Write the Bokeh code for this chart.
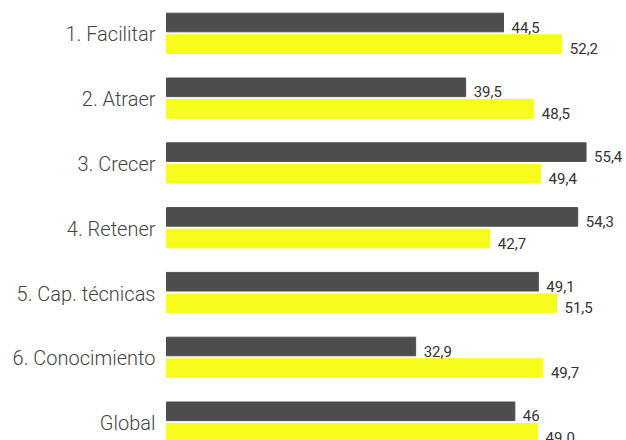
from bokeh.plotting import figure
from bokeh.models import Range1d, ColumnDataSource
from bokeh.core.properties import value
from bokeh.embed import file_html
from bokeh.resources import INLINE

categories = ["1. Facilitar", "2. Atraer", "3. Crecer", "4. Retener",
              "5. Cap. técnicas", "6. Conocimiento", "Global"]
series_dark = [44.5, 39.5, 55.4, 54.3, 49.1, 32.9, 46.0]
series_yellow = [52.2, 48.5, 49.4, 42.7, 51.5, 49.7, 49.0]
labels_dark = ["44,5", "39,5", "55,4", "54,3", "49,1", "32,9", "46"]
labels_yellow = ["52,2", "48,5", "49,4", "42,7", "51,5", "49,7", "49.0"]

DARK = "#4d4d4d"
YELLOW = "#f8fc1c"

idx = list(range(len(categories)))
UNIT = 64.8    # px per category
SCALE = 7.573  # px per value unit
TOP = 32.8     # px from top to first group centre
off = 10.8 / UNIT
bh = 18.6 / UNIT

src = ColumnDataSource(dict(
    y=idx,
    yd=[i - off for i in idx],
    yy=[i + off for i in idx],
    cat=categories,
    dark=series_dark,
    yellow=series_yellow,
    ld=labels_dark,
    ly=labels_yellow,
    zero=[0] * len(idx),
))

W, H = 626, 440
X0 = 166
p = figure(width=W, height=H, output_backend="svg", toolbar_location=None,
           x_range=Range1d(-X0 / SCALE, (W - X0) / SCALE),
           y_range=Range1d((H - TOP) / UNIT, -TOP / UNIT),
           min_border_left=0, min_border_right=0, min_border_top=0, min_border_bottom=0)
p.axis.visible = False
p.grid.visible = False
p.outline_line_color = None
p.background_fill_color = "white"

p.hbar(y="yd", left=0, right="dark", height=bh, color=DARK, source=src)
p.hbar(y="yy", left=0, right="yellow", height=bh, color=YELLOW, source=src)

p.text(x="dark", y="yd", text="ld", source=src, x_offset=8, y_offset=4.5,
       text_font=value("Roboto"), text_font_size="15px", text_color="#333333",
       text_baseline="middle", text_align="left")
p.text(x="yellow", y="yy", text="ly", source=src, x_offset=8, y_offset=4.5,
       text_font=value("Roboto"), text_font_size="15px", text_color="#333333",
       text_baseline="middle", text_align="left")
p.text(x="zero", y="y", text="cat", source=src, x_offset=-11, y_offset=1,
       text_font=value("Roboto Light"), text_font_size="20px", text_color="#444444",
       text_baseline="middle", text_align="right")

open("out.html", "w").write(file_html(p, INLINE))
